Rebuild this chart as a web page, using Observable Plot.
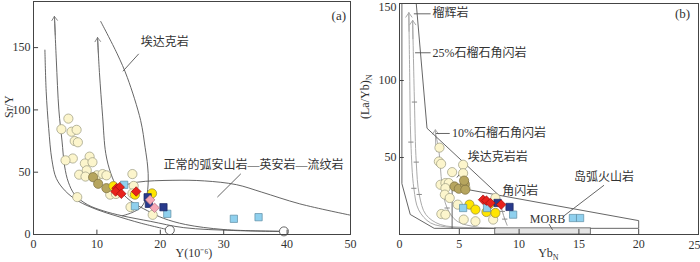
<!DOCTYPE html>
<html><head><meta charset="utf-8">
<script src="https://cdn.jsdelivr.net/npm/d3@7"></script>
<script src="https://cdn.jsdelivr.net/npm/@observablehq/plot@0.6"></script>
<style>
body{margin:0;background:#fff;}
#wrap{position:relative;width:700px;height:262px;overflow:hidden;background:#fff;}
#wrap svg{position:absolute;top:0;overflow:visible;}
</style></head><body><div id="wrap"></div>
<script>
// ================= Panel (a): Sr/Y vs Y(10^-6) =================
const aXTicks = [0, 10, 20, 30, 40, 50];
const aYTicks = [0, 50, 100, 150];
const aCream = [[5.5,93],[4.4,84.5],[6.0,82.5],[6.8,84],[6.5,75],[7.0,74],[6.2,61],[5.05,59.5],[8.85,62.5],[8.1,57],[9.3,58],[7.2,48],[8.4,51.5],[8.2,46.5],[10.0,47.5],[10.9,48.5],[11.5,47.5],[6.9,30],[12.1,32],[13.0,32.5],[15.6,48.5],[15.8,39],[15.6,33],[15.3,22],[18.8,15.8]];
const aOlive = [[9.4,46],[10.2,40.7],[11.5,37.2]];
const aYellow = [[12.6,38.8],[16.0,32],[18.7,33]];
const aLightBlue = [[14.3,39.9],[16.0,22.7],[21.1,16.6],[31.6,12.6],[35.5,13.9]];
const aDarkBlue = [[18.0,29.9],[18.2,24.6],[20.5,21.9]];
const aPink = [[18.4,27.8],[19.1,21.4]];
const aRed = [[13.1,37.2],[13.6,38],[12.95,34.5],[13.85,32.7],[16.2,34.5]];
const aSources = [[21.5,3.5],[39.5,2.5]];
const aCurve1 = [[1.8,148],[2.0,115],[2.4,85],[2.9,60],[3.6,45],[5,35],[7,27],[10,20],[13,15],[17,9],[21.5,3.5]];
const aCurve2 = [[3.3,175],[3.6,140],[4.0,100],[4.5,75],[4.9,55],[5.5,42],[6.5,32],[8.5,24],[11,19],[14,15],[18.5,10.5],[23.7,5.5],[31.6,3.2],[39.5,2.5]];
const aCurve3 = [[10.1,158],[10.4,130],[10.9,95],[11.4,65],[12.2,49],[13.2,38],[15.3,27],[18,19],[20.5,13],[24,8],[30,4],[39.5,2.5]];
const aAdakiteEdge = [[10.6,171],[13.2,145],[14.8,126],[16.9,91.5],[17.6,70],[18,55],[18.1,43],[17.8,30],[17.0,22],[15.5,17.5],[14,15]];
const aArcTop = [[13.2,38],[16.4,42],[22,43.5],[27,43],[32,40],[36,34],[42,24.6],[50,15.5]];
const aArrows = [[3.45,160,3.3,175],[10.25,145,10.1,158]];
const aLeaders = [[14.1,131,16.6,145],[29,30,32.7,48.7]];
const aLabels = [["埃达克岩",16.9,154],["正常的弧安山岩—英安岩—流纹岩",20.5,55.4]];

// ================= Panel (b): (La/Yb)N vs YbN =================
const bXTicks = [0, 5, 10, 15, 20];
const bXLastTick = [25];
const bYTicks = [50, 100];
const bYTopTick = [150];
const bCream = [[3.34,56.4],[3.29,47.4],[3.48,45.9],[4.4,40.5],[5.32,45.3],[5.32,39.8],[3.43,32.3],[3.84,33.4],[4.12,33.4],[3.84,30.1],[3.79,25.9],[4.2,23.7],[3.5,13.3],[3.84,12.9],[4.87,19.4],[5.51,30.1],[5.37,9.7],[6.35,8.6],[8.02,23.7],[7.83,9.7]];
const bOlive = [[4.6,31.2],[4.96,29.7],[5.46,32.7],[5.5,29.1],[5.4,35]];
const bYellow = [[5.85,19.4],[6.35,16.2],[7.27,14.6],[8.02,14.0],[7.5,19.5]];
const bLightBlue = [[5.32,17.2],[7.32,17.2],[9.5,12.9],[14.5,10.7],[15.1,10.7]];
const bDarkBlue = [[9.2,17.9],[8.2,20.5]];
const bRed = [[6.99,22.6],[7.27,22],[7.6,20.4],[8.5,19.4]];
const bOuterLeft = [[0.2,150],[0.2,33],[0.9,13],[2.9,4],[8,4]];
const bOuterTop = [[0.2,150],[1.4,150],[2.3,69],[8.3,25.5]];
const bArcField = [[4.4,4],[4.4,31],[20,9],[20,4],[16,4]];
const bMorb = [[8,16,0,4]];
const bEclogite = [[8,4],[6,4.2],[4.3,4.6],[2.6,7.5],[1.6,16],[1.2,30],[0.95,60],[0.85,105],[0.78,144]];
const bGarnet25 = [[8,4],[5.65,4.5],[3.4,6.5],[2.2,13],[1.65,26],[1.4,47],[1.25,86],[1.1,139]];
const bGarnet10 = [[8,4],[6.5,4.8],[4.82,8.6],[3.98,17.2],[3.56,32.3],[3.3,54],[3.0,66]];
const bAmphibolite = [[8.4,22],[8.6,15],[8.8,10],[9.0,6]];
const bHash = [[0.95,60],[1.2,30],[1.25,86],[1.4,47],[1.65,26],[3.3,54],[3.56,32.3],[3.98,17.2],[8.6,15],[8.8,10]];
const bArrows = [[0.8,132,0.78,144],[1.12,127,1.1,139],[3.03,58,3.0,68]];
const bLeaders = [[1.2,143.3,2.6,143.3],[1.3,118,2.6,118],[3.05,65.6,4.2,65.6],[5.65,45.3,4.8,37],[17.1,32,13.7,11.8],[12.5,6.8,12.8,3]];
const bLabels = [["榴辉岩",2.75,143.5],["25%石榴石角闪岩",2.75,118],["10%石榴石角闪岩",4.4,65.6],["埃达克岩岩",5.7,50],["角闪岩",8.6,28],["岛弧火山岩",14.6,37],["MORB",10.9,10]];

const FONT = "'Liberation Serif','Noto Sans CJK SC',serif";
const INK = "#333";
const LINE = "#555";
const sty = {background: "transparent", fontFamily: FONT, fontSize: "12px", color: INK};
const X = d => d[0], Y = d => d[1];

function markers(cream, olive, yellow, lblue, dblue, pink, red) {
  return [
    Plot.dot(cream, {x: X, y: Y, r: 4.6, fill: "#fcf5cc", stroke: "#9a9a80", strokeWidth: 0.7}),
    Plot.dot(olive, {x: X, y: Y, r: 4.6, fill: "#b6a55e", stroke: "#7c7040", strokeWidth: 0.7}),
    Plot.dot(yellow, {x: X, y: Y, r: 4.6, fill: "#ffe500", stroke: "#8c8440", strokeWidth: 0.7}),
    Plot.dot(lblue, {x: X, y: Y, r: 4.1, symbol: "square", fill: "#8fd0ee", stroke: "#5b8ca4", strokeWidth: 0.7}),
    Plot.dot(dblue, {x: X, y: Y, r: 4.1, symbol: "square", fill: "#283a8c", stroke: "#1a2560", strokeWidth: 0.7}),
    Plot.dot(pink, {x: X, y: Y, r: 4.3, symbol: "diamond2", fill: "#f5a8b6", stroke: "#b07080", strokeWidth: 0.7}),
    Plot.dot(red, {x: X, y: Y, r: 4.3, symbol: "diamond2", fill: "#e8221c", stroke: "#a01010", strokeWidth: 0.7})
  ];
}

const plotA = Plot.plot({
  width: 360, height: 262, marginLeft: 33, marginRight: 10, marginTop: 1, marginBottom: 28,
  style: sty,
  x: {domain: [0, 50], ticks: aXTicks, tickSize: 0, tickPadding: 5, label: null},
  y: {domain: [0, 187], ticks: aYTicks, tickSize: 0, tickPadding: 3, label: null},
  marks: [
    Plot.line(aCurve1, {x: X, y: Y, curve: "catmull-rom", stroke: LINE, strokeWidth: 0.9}),
    Plot.line(aCurve2, {x: X, y: Y, curve: "catmull-rom", stroke: LINE, strokeWidth: 0.9}),
    Plot.line(aCurve3, {x: X, y: Y, curve: "catmull-rom", stroke: LINE, strokeWidth: 0.9}),
    Plot.line(aAdakiteEdge, {x: X, y: Y, curve: "catmull-rom", stroke: LINE, strokeWidth: 0.9}),
    Plot.line(aArcTop, {x: X, y: Y, curve: "catmull-rom", stroke: LINE, strokeWidth: 0.9}),
    Plot.arrow(aArrows, {x1: d => d[0], y1: d => d[1], x2: d => d[2], y2: d => d[3], stroke: "#777", strokeWidth: 0.9, headLength: 8, headAngle: 70}),
    Plot.link(aLeaders, {x1: d => d[0], y1: d => d[1], x2: d => d[2], y2: d => d[3], stroke: LINE, strokeWidth: 0.9}),
    Plot.dot(aSources, {x: X, y: Y, r: 4.5, fill: "white", stroke: LINE, strokeWidth: 0.9}),
    ...markers(aCream, aOlive, aYellow, aLightBlue, aDarkBlue, aPink, aRed),
    Plot.text(aLabels, {x: d => d[1], y: d => d[2], text: d => d[0], textAnchor: "start", fill: INK, fontSize: 12}),
    Plot.text(["(a)"], {x: 49.3, y: 175.8, text: d => d, textAnchor: "end", fill: INK, fontSize: 13}),
    Plot.ruleX(aXTicks.filter(d => d > 0 && d < 50), {x: d => d, y1: () => 0, y2: () => 3.5, stroke: "#444"}),
    Plot.ruleY(aYTicks.filter(d => d > 0), {y: d => d, x1: () => 0, x2: () => 0.8, stroke: "#444"}),
    Plot.frame({stroke: "#444"}),
    Plot.text(["Y(10⁻⁶)"], {x: 25.3, y: 0, text: d => d, dy: 19, fill: INK, fontSize: 12}),
    Plot.text(["Sr/Y"], {frameAnchor: "left", text: d => d, rotate: -90, dx: -24, fill: INK, fontSize: 12})
  ]
});

const plotB = Plot.plot({
  width: 350, height: 262, marginLeft: 49, marginRight: 2, marginTop: 3, marginBottom: 28,
  style: sty,
  x: {domain: [0, 25], ticks: bXTicks, tickSize: 0, tickPadding: 5, label: null},
  y: {domain: [0, 150], ticks: bYTicks, tickSize: 0, tickPadding: 3, label: null},
  marks: [
    Plot.rect(bMorb, {x1: d => d[0], x2: d => d[1], y1: d => d[2], y2: d => d[3], fill: "#e4e4e4", stroke: "#666", strokeWidth: 0.9}),
    Plot.line(bEclogite, {x: X, y: Y, curve: "catmull-rom", stroke: "#aaa", strokeWidth: 1}),
    Plot.line(bGarnet25, {x: X, y: Y, curve: "catmull-rom", stroke: "#aaa", strokeWidth: 1}),
    Plot.line(bGarnet10, {x: X, y: Y, curve: "catmull-rom", stroke: "#aaa", strokeWidth: 1}),
    Plot.line(bAmphibolite, {x: X, y: Y, curve: "catmull-rom", stroke: "#999", strokeWidth: 1}),
    Plot.link(bHash, {x1: d => d[0] - 0.22, x2: d => d[0] + 0.22, y1: Y, y2: Y, stroke: "#888", strokeWidth: 1}),
    Plot.arrow(bArrows, {x1: d => d[0], y1: d => d[1], x2: d => d[2], y2: d => d[3], stroke: "#aaa", strokeWidth: 1, headLength: 8, headAngle: 70}),
    Plot.line(bOuterLeft, {x: X, y: Y, stroke: LINE, strokeWidth: 0.9}),
    Plot.line(bOuterTop, {x: X, y: Y, stroke: LINE, strokeWidth: 0.9}),
    Plot.line(bArcField, {x: X, y: Y, stroke: LINE, strokeWidth: 0.9}),
    Plot.link(bLeaders, {x1: d => d[0], y1: d => d[1], x2: d => d[2], y2: d => d[3], stroke: LINE, strokeWidth: 0.9}),
    ...markers(bCream, bOlive, bYellow, bLightBlue, bDarkBlue, [], bRed),
    Plot.text(bLabels, {x: d => d[1], y: d => d[2], text: d => d[0], textAnchor: "start", fill: INK, fontSize: 12}),
    Plot.text(["(b)"], {x: 24.3, y: 143.5, text: d => d, textAnchor: "end", fill: INK, fontSize: 13}),
    Plot.text(bYTopTick, {x: 0, y: d => d, text: d => String(d), textAnchor: "end", dx: -3, dy: 4, fill: INK, fontSize: 12}),
    Plot.text(bXLastTick, {x: d => d, y: 0, text: d => String(d), textAnchor: "end", dx: 2, dy: 11, fill: INK, fontSize: 12}),
    Plot.ruleX(bXTicks.filter(d => d > 0), {x: d => d, y1: () => 0, y2: () => 3.3, stroke: "#444"}),
    Plot.ruleY([...bYTicks, ...bYTopTick], {y: d => d, x1: () => 0, x2: () => 0.4, stroke: "#444"}),
    Plot.frame({stroke: "#444"}),
    Plot.text(["YbN"], {x: 12.45, y: 0, text: d => d, dy: 19, fill: INK, fontSize: 12}),
    Plot.text(["(La/Yb)N"], {frameAnchor: "left", text: d => d, rotate: -90, dx: -34, fill: INK, fontSize: 12})
  ]
});

const wrap = document.getElementById("wrap");
plotA.style.left = "0px";
plotB.style.left = "350px";
wrap.appendChild(plotA);
wrap.appendChild(plotB);

// subscript N
function subN(svg, full, base) {
  d3.select(svg).selectAll("text").filter(function () { return this.textContent === full; }).each(function () {
    const t = d3.select(this);
    t.text(base);
    t.append("tspan").attr("font-size", 8).attr("dy", 2.5).text("N");
  });
}
subN(plotB, "YbN", "Yb");
subN(plotB, "(La/Yb)N", "(La/Yb)");
</script>
</body></html>
